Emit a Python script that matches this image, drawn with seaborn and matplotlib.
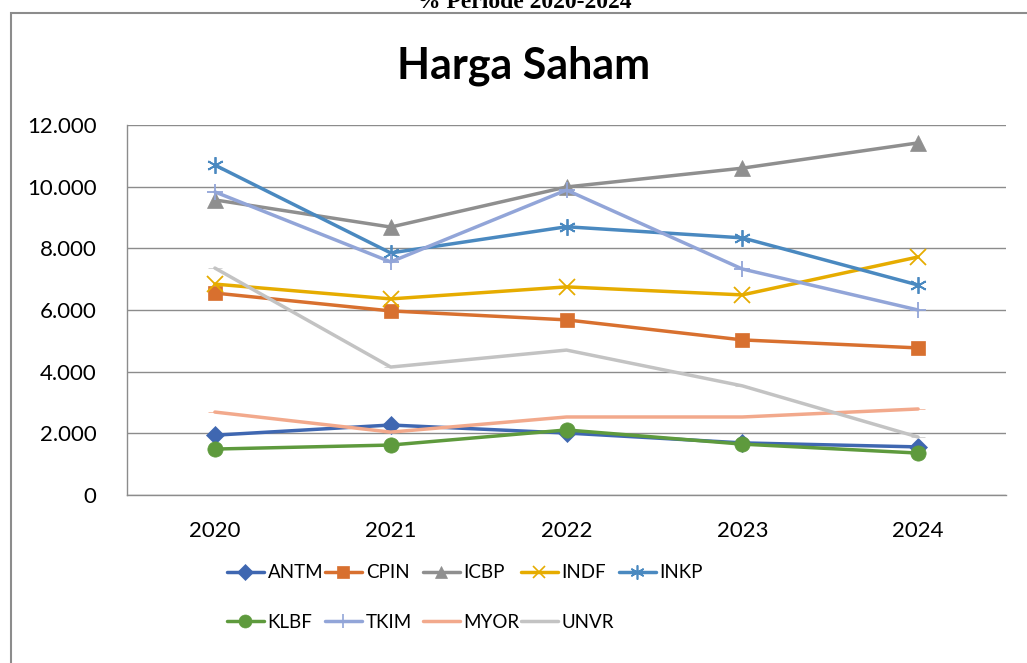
import matplotlib
matplotlib.use("Agg")
import matplotlib.pyplot as plt
import seaborn as sns
import pandas as pd
import numpy as np
from matplotlib.lines import Line2D
from matplotlib.patches import Rectangle
from matplotlib.ticker import FuncFormatter, FixedLocator

years = ["2020", "2021", "2022", "2023", "2024"]
ANTM = [1940, 2270, 2010, 1690, 1560]
CPIN = [6550, 5970, 5680, 5030, 4770]
ICBP = [9570, 8690, 9990, 10600, 11420]
INDF = [6840, 6360, 6750, 6490, 7720]
INKP = [10700, 7850, 8700, 8340, 6810]
KLBF = [1490, 1620, 2110, 1650, 1360]
TKIM = [9830, 7560, 9890, 7330, 6000]
MYOR = [2690, 2040, 2530, 2530, 2790]
UNVR = [7360, 4150, 4700, 3540, 1880]

series_names = ["ANTM", "CPIN", "ICBP", "INDF", "INKP", "KLBF", "TKIM", "MYOR", "UNVR"]
series_values = [ANTM, CPIN, ICBP, INDF, INKP, KLBF, TKIM, MYOR, UNVR]
y_ticks = [0, 2000, 4000, 6000, 8000, 10000, 12000]

colors = {
    "ANTM": "#3F67B1", "CPIN": "#D8702F", "ICBP": "#8F8F8F", "INDF": "#E6AC00",
    "INKP": "#4A89C0", "KLBF": "#5E9A3D", "TKIM": "#92A5D8", "MYOR": "#F2A98C",
    "UNVR": "#C3C3C3",
}
markers = {
    "ANTM": ("D", 9), "CPIN": ("s", 10), "ICBP": ("^", 11), "INDF": ("x", 11),
    "INKP": ((6, 2, 0), 12), "KLBF": ("o", 11), "TKIM": ("+", 12),
    "MYOR": ("_", 10), "UNVR": ("_", 10),
}

rows = []
for name, vals in zip(series_names, series_values):
    for yr, v in zip(years, vals):
        rows.append({"Tahun": yr, "Harga": v, "Emiten": name})
df = pd.DataFrame(rows)

sns.set_theme(style="white")
plt.rcParams["font.family"] = ["Lato", "DejaVu Sans"]
plt.rcParams["text.color"] = "black"

W, H = 1027, 663
fig = plt.figure(figsize=(W / 100, H / 100), dpi=100)
fig.patch.set_facecolor("white")

# outer chart border
fig.add_artist(Rectangle((11 / W, -0.01), 1.05, 1 - 13 / H + 0.01, transform=fig.transFigure,
                         fill=False, edgecolor="#8C8C8C", linewidth=1.5))

ax = fig.add_axes([127 / W, 1 - 495 / H, (1006 - 127) / W, (495 - 125) / H])
x_pos = {y: i for i, y in enumerate(years)}
df["x"] = df["Tahun"].map(x_pos)

line_markers = ("x", "+", (6, 2, 0))
for name in series_names:
    sub = df[df["Emiten"] == name]
    m, ms = markers[name]
    sns.lineplot(data=sub, x="x", y="Harga", ax=ax, color=colors[name], linewidth=2.5,
                 marker=m, markersize=ms, markeredgewidth=1.3 if m in line_markers else 0.5,
                 markeredgecolor=colors[name], markerfacecolor=colors[name],
                 legend=False, zorder=3)

ax.set_xlim(-0.5, len(years) - 0.5)
ax.set_ylim(0, 12000)
ax.set_xticks(range(len(years)))
ax.set_xticklabels(years)
ax.xaxis.set_minor_locator(FixedLocator(np.arange(-0.5, len(years), 1.0)))
ax.tick_params(axis="x", which="major", length=0, pad=19, labelsize=16, labelcolor="black")
ax.tick_params(axis="x", which="minor", length=8, width=1, color="#8C8C8C", direction="out")
ax.set_yticks(y_ticks)
ax.yaxis.set_major_formatter(FuncFormatter(lambda v, p: f"{int(v):,}".replace(",", ".")))
ax.tick_params(axis="y", length=8, width=1, color="#8C8C8C", direction="out", pad=14,
               labelsize=16, labelcolor="black")
ax.grid(axis="y", color="#8C8C8C", linewidth=1)
ax.grid(axis="x", visible=False)
ax.set_axisbelow(True)
for s in ["top", "right"]:
    ax.spines[s].set_visible(False)
for s in ["left", "bottom"]:
    ax.spines[s].set_color("#8C8C8C")
    ax.spines[s].set_linewidth(1)
ax.set_xlabel("")
ax.set_ylabel("")
ax.set_facecolor("none")

fig.text(524 / W, 1 - 78 / H, "Harga Saham", ha="center", va="baseline", color="black",
         fontsize=31, fontweight="bold", family=["Lato", "DejaVu Sans"])
fig.text(524 / W, 1 - 8 / H, "% Periode 2020-2024", ha="center", va="baseline", color="black",
         fontsize=17, fontweight="bold", family=["Liberation Serif", "DejaVu Serif"])

# legend, Excel-like fixed column positions
col_x = [227, 325, 423, 521, 619]
row_y = [573, 622]
for i, name in enumerate(series_names):
    r, c = divmod(i, 5)
    m, ms = markers[name]
    h = Line2D([], [], color=colors[name], linewidth=2.5, marker=m, markersize=ms * 0.85,
               markeredgewidth=1.2 if m in line_markers else 0.5,
               markerfacecolor=colors[name], markeredgecolor=colors[name])
    leg = fig.legend([h], [name], loc="center left",
                     bbox_to_anchor=(col_x[c] / W, 1 - row_y[r] / H), frameon=False,
                     fontsize=13.5, handlelength=1.95, handletextpad=0.22, borderpad=0,
                     borderaxespad=0)
    for t in leg.get_texts():
        t.set_color("black")

fig.savefig("out.png", dpi=100, facecolor="white")
